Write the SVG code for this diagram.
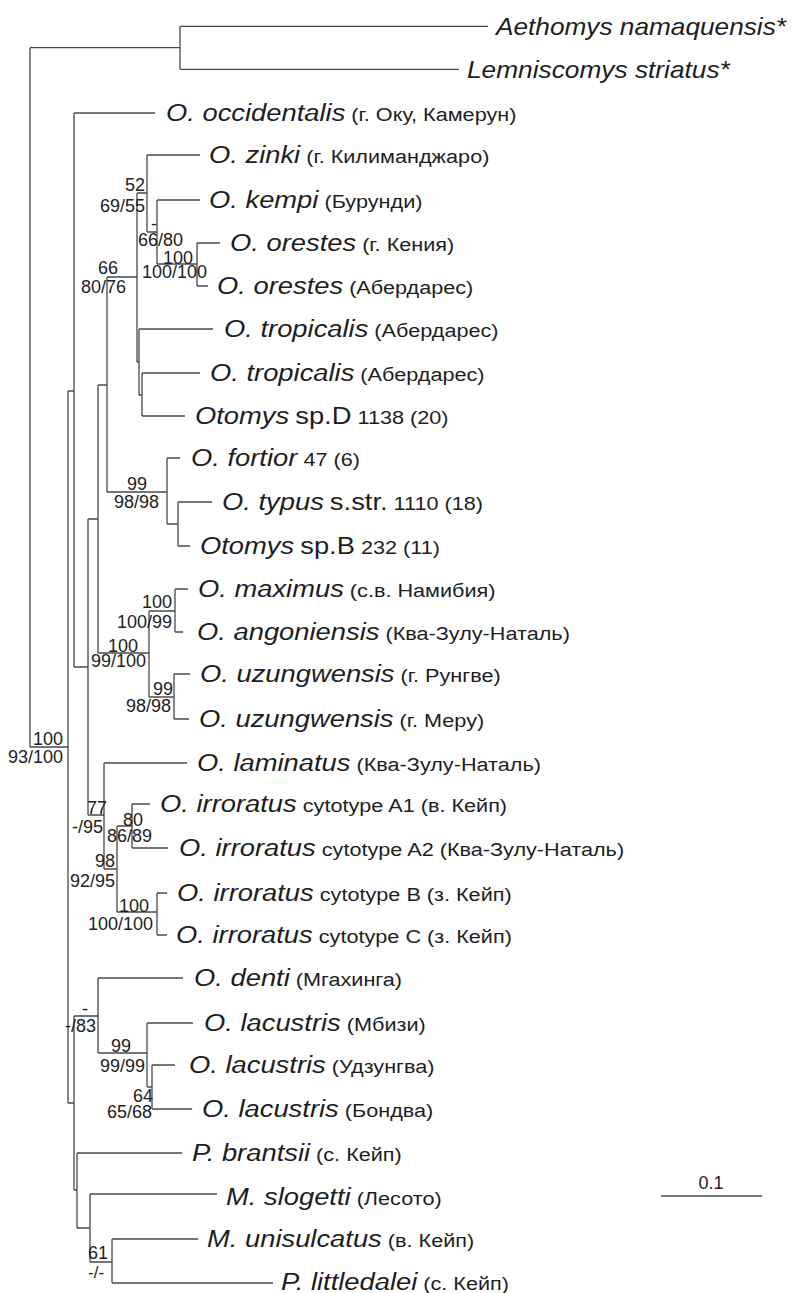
<svg xmlns="http://www.w3.org/2000/svg" width="792" height="1293" viewBox="0 0 792 1293">
<style>
.br{fill:none;stroke:#4a4a4a;stroke-width:1.3}
.t{font-family:"Liberation Sans",Arial,sans-serif;font-size:19px;fill:#1e1e1e}
.it{font-style:italic;font-size:24px}
.bg{font-size:24px}
.sv{font-family:"Liberation Sans",Arial,sans-serif;font-size:18px;fill:#222}
.sm{font-size:17px}
</style>
<rect width="792" height="1293" fill="#fff"/>
<g id="connectors" class="br">
<path d="M30 47.7V747M30 47.7H180M180 26.3V69.3M180 26.3H488M180 69.3H459"/>
<path d="M30 747H68M68 391V1103"/>
<path d="M68 391H74M74 113V667M74 113H155"/>
<path d="M74 667H88M88 519V815"/>
<path d="M88 519H98M98 385V653"/>
<path d="M98 385H107M107 277V492"/>
<path d="M107 277H137M137 193V362"/>
<path d="M137 193H147M147 155V232M147 155H200"/>
<path d="M147 232H157M157 200V264M157 200H200"/>
<path d="M157 264H197M197 243V286M197 243H220M197 286H208"/>
<path d="M137 362H139M139 329V395M139 329H213"/>
<path d="M139 395H142M142 373V416M142 373H200M142 416H185"/>
<path d="M107 492H167M167 458V524M167 458H180"/>
<path d="M167 524H178M178 502V546M178 502H212M178 546H190"/>
<path d="M98 653H149M149 611V697"/>
<path d="M149 611H175M175 589V632M175 589H188M175 632H183"/>
<path d="M149 697H174M174 674V719M174 674H190M174 719H189"/>
<path d="M88 815H104M104 763V869M104 763H187"/>
<path d="M104 869H117M117 826V912"/>
<path d="M117 826H132M132 804V848M132 804H150M132 848H168"/>
<path d="M117 912H157M157 893V935M157 893H167M157 935H167"/>
<path d="M68 1103H74M74 1016V1190"/>
<path d="M74 1016H98M98 978V1053M98 978H183"/>
<path d="M98 1053H147M147 1023V1087M147 1023H193"/>
<path d="M147 1087H152M152 1065V1109M152 1065H175M152 1109H192"/>
<path d="M74 1190H77M77 1153V1228M77 1153H182"/>
<path d="M77 1228H90M90 1194V1262M90 1194H217"/>
<path d="M90 1262H112M112 1239V1283M112 1239H198M112 1283H273"/>
<path d="M661 1196H762"/>
</g>
<g id="taxa" class="t">
<g id="t01"><text transform="translate(496 35) scale(1.093 1)"><tspan class="it">Aethomys namaquensis*</tspan></text></g>
<g id="t02"><text transform="translate(467 78) scale(1.095 1)"><tspan class="it">Lemniscomys striatus*</tspan></text></g>
<g id="t03"><text transform="translate(166 120.5) scale(1.14 1)"><tspan class="it">O. occidentalis</tspan> (г. Оку, Камерун)</text></g>
<g id="t04"><text transform="translate(209 162.5) scale(1.14 1)"><tspan class="it">O. zinki</tspan> (г. Килиманджаро)</text></g>
<g id="t05"><text transform="translate(209 207.5) scale(1.14 1)"><tspan class="it">O. kempi</tspan> (Бурунди)</text></g>
<g id="t06"><text transform="translate(230 250.5) scale(1.14 1)"><tspan class="it">O. orestes</tspan> (г. Кения)</text></g>
<g id="t07"><text transform="translate(217 293.5) scale(1.14 1)"><tspan class="it">O. orestes</tspan> (Абердарес)</text></g>
<g id="t08"><text transform="translate(224 336.5) scale(1.14 1)"><tspan class="it">O. tropicalis</tspan> (Абердарес)</text></g>
<g id="t09"><text transform="translate(210 380.5) scale(1.14 1)"><tspan class="it">O. tropicalis</tspan> (Абердарес)</text></g>
<g id="t10"><text transform="translate(195 423.5) scale(1.14 1)"><tspan class="it">Otomys</tspan> <tspan class="bg">sp.D</tspan> 1138 (20)</text></g>
<g id="t11"><text transform="translate(191 465.5) scale(1.14 1)"><tspan class="it">O. fortior</tspan> 47 (6)</text></g>
<g id="t12"><text transform="translate(222 509.5) scale(1.14 1)"><tspan class="it">O. typus</tspan> <tspan class="bg">s.str.</tspan> 1110 (18)</text></g>
<g id="t13"><text transform="translate(200 553.5) scale(1.14 1)"><tspan class="it">Otomys</tspan> <tspan class="bg">sp.B</tspan> 232 (11)</text></g>
<g id="t14"><text transform="translate(198 596.5) scale(1.14 1)"><tspan class="it">O. maximus</tspan> (с.в. Намибия)</text></g>
<g id="t15"><text transform="translate(197 639.5) scale(1.14 1)"><tspan class="it">O. angoniensis</tspan> (Ква-Зулу-Наталь)</text></g>
<g id="t16"><text transform="translate(200 681.5) scale(1.14 1)"><tspan class="it">O. uzungwensis</tspan> (г. Рунгве)</text></g>
<g id="t17"><text transform="translate(199 726.5) scale(1.14 1)"><tspan class="it">O. uzungwensis</tspan> (г. Меру)</text></g>
<g id="t18"><text transform="translate(197 770.5) scale(1.14 1)"><tspan class="it">O. laminatus</tspan> (Ква-Зулу-Наталь)</text></g>
<g id="t19"><text transform="translate(160 811.5) scale(1.14 1)"><tspan class="it">O. irroratus</tspan> cytotype A1 (в. Кейп)</text></g>
<g id="t20"><text transform="translate(179 855.5) scale(1.14 1)"><tspan class="it">O. irroratus</tspan> cytotype A2 (Ква-Зулу-Наталь)</text></g>
<g id="t21"><text transform="translate(177 900.5) scale(1.14 1)"><tspan class="it">O. irroratus</tspan> cytotype B (з. Кейп)</text></g>
<g id="t22"><text transform="translate(176 942.5) scale(1.14 1)"><tspan class="it">O. irroratus</tspan> cytotype C (з. Кейп)</text></g>
<g id="t23"><text transform="translate(194 985.5) scale(1.14 1)"><tspan class="it">O. denti</tspan> (Мгахинга)</text></g>
<g id="t24"><text transform="translate(204 1030.5) scale(1.14 1)"><tspan class="it">O. lacustris</tspan> (Мбизи)</text></g>
<g id="t25"><text transform="translate(189 1072.5) scale(1.14 1)"><tspan class="it">O. lacustris</tspan> (Удзунгва)</text></g>
<g id="t26"><text transform="translate(202 1116.5) scale(1.14 1)"><tspan class="it">O. lacustris</tspan> (Бондва)</text></g>
<g id="t27"><text transform="translate(192 1160.5) scale(1.14 1)"><tspan class="it">P. brantsii</tspan> (с. Кейп)</text></g>
<g id="t28"><text transform="translate(226 1205) scale(1.14 1)"><tspan class="it">M. slogetti</tspan> (Лесото)</text></g>
<g id="t29"><text transform="translate(207 1247) scale(1.14 1)"><tspan class="it">M. unisulcatus</tspan> (в. Кейп)</text></g>
<g id="t30"><text transform="translate(281 1290) scale(1.14 1)"><tspan class="it">P. littledalei</tspan> (с. Кейп)</text></g>
</g>
<g id="support" class="sv">
<text x="33" y="745">100</text><text x="8" y="763">93/100</text>
<text x="125" y="191">52</text><text x="100" y="212">69/55</text>
<text x="151" y="230">-</text><text x="138" y="246">66/80</text>
<text x="163" y="264">100</text><text x="142" y="278">100/100</text>
<text x="98" y="274">66</text><text x="81" y="293">80/76</text>
<text x="127" y="490">99</text><text x="114" y="508">98/98</text>
<text x="142" y="608">100</text><text x="117" y="628">100/99</text>
<text x="108" y="652">100</text><text x="91" y="667">99/100</text>
<text x="153" y="695">99</text><text x="126" y="712">98/98</text>
<text x="87" y="814">77</text><text x="72" y="833">-/95</text>
<text x="123" y="826">80</text><text x="107" y="842">86/89</text>
<text x="95" y="867">98</text><text x="70" y="887">92/95</text>
<text x="119" y="912">100</text><text x="88" y="930">100/100</text>
<text x="82" y="1015">-</text><text x="65" y="1032">-/83</text>
<text x="111" y="1052">99</text><text x="100" y="1072">99/99</text>
<text x="133" y="1102">64</text><text x="107" y="1118">65/68</text>
<text x="88" y="1259">61</text><text class="sm" x="88" y="1278">-/-</text>
</g>
<g id="scale"><text class="sv" x="711" y="1189" text-anchor="middle" font-size="20">0.1</text></g>
</svg>
